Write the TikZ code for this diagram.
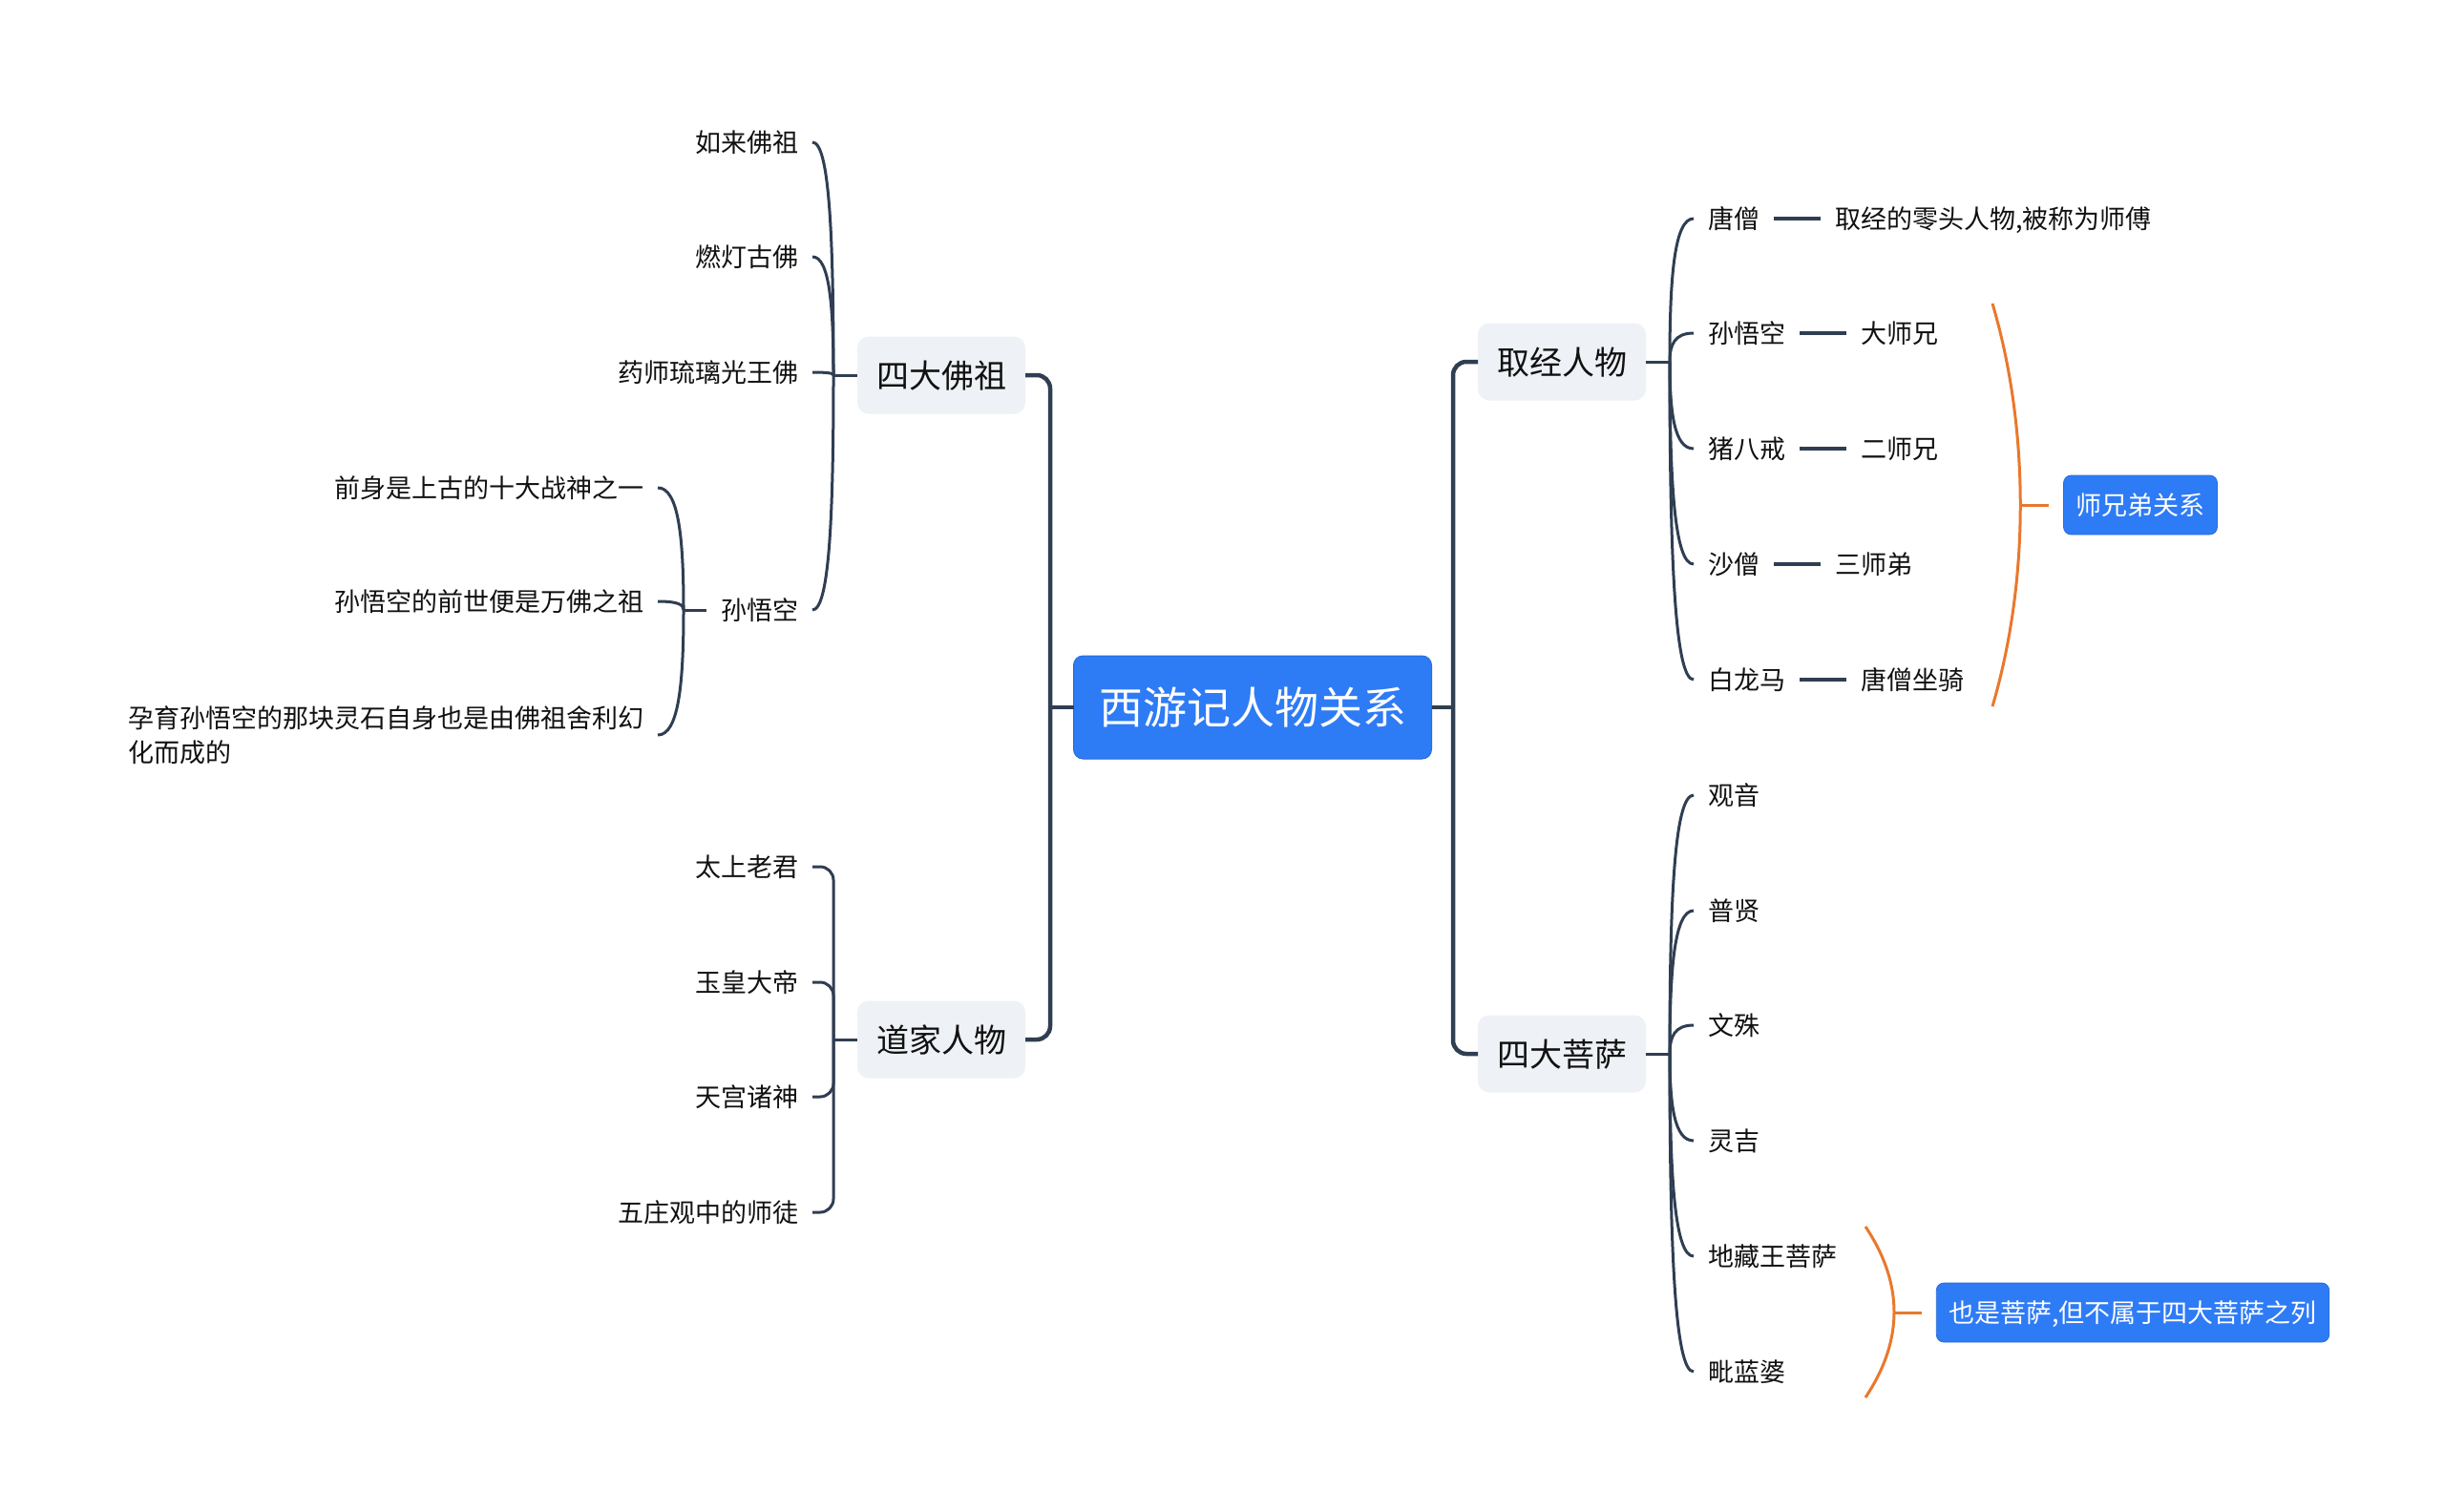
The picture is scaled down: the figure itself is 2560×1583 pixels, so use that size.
\documentclass[tikz,border=0pt]{standalone}
\usepackage{fontspec}
\setmainfont{Noto Sans CJK SC}
\usetikzlibrary{calc,positioning}
\definecolor{navy}{HTML}{2F3E52}
\definecolor{boxgray}{HTML}{EEF1F5}
\definecolor{mblue}{HTML}{2E7BF6}
\definecolor{morange}{HTML}{E9782C}
\definecolor{txt}{HTML}{111111}
\tikzset{
 every node/.style={inner sep=0pt, outer sep=0pt},
 centerbox/.style={fill=mblue, draw=mblue!88!black, line width=1pt, rounded corners=10pt, text=white, font=\fontsize{46}{55}\selectfont, minimum width=375pt, minimum height=108pt, text height=40.5pt, text depth=5.5pt},
 midbox/.style={fill=boxgray, rounded corners=12pt, text=txt, font=\fontsize{34}{41}\selectfont, minimum width=176pt, minimum height=81pt, text height=30pt, text depth=4pt},
 leaf/.style={text=txt, font=\fontsize{27}{36}\selectfont, inner xsep=15pt, text height=23.8pt, text depth=3.2pt},
 leafml/.style={text=txt, font=\fontsize{27}{36}\selectfont, inner xsep=15pt, align=left},
 sumbox/.style={fill=mblue, draw=mblue!88!black, line width=0.8pt, rounded corners=8pt, text=white, font=\fontsize{27}{33}\selectfont, minimum height=62pt, inner xsep=13pt, text height=23.8pt, text depth=3.2pt},
 mainline/.style={draw=navy, line width=4.5pt, rounded corners=14pt},
 leafline/.style={draw=navy, line width=3pt},
 subline/.style={draw=navy, line width=4pt},
 elbow/.style={draw=navy, line width=3pt, rounded corners=14pt},
 sumline/.style={draw=morange, line width=3pt},
}
\newcommand{\mmcurve}[2]{\draw[leafline] let \p1=(#1), \p2=(#2) in (\p1) .. controls ({\x1+0.8*(\x2-\x1)},\y1) and (\x2,{\y1+0.4*(\y2-\y1)}) .. (\p2);}
\begin{document}
\begin{tikzpicture}[x=1pt,y=-1pt]
\useasboundingbox (0,0) rectangle (2560,1583);
\fill[white] (0,0) rectangle (2560,1583);

% root and level 2
\node[centerbox] (root) at (1312,741) {西游记人物关系};
\node[midbox] (fz) at (986,393) {四大佛祖};
\node[midbox] (dj) at (986,1089) {道家人物};
\node[midbox] (qj) at (1636,379) {取经人物};
\node[midbox] (ps) at (1636,1104) {四大菩萨};

\coordinate (LB) at (1100,741);
\coordinate (RB) at (1522,741);
\draw[mainline] (fz.east) -| (LB) |- (dj.east);
\draw[mainline] (root.west) -- (LB);
\draw[mainline] (qj.west) -| (RB) |- (ps.west);
\draw[mainline] (root.east) -- (RB);

% 四大佛祖
\coordinate (J1) at (873,393);
\node[leaf, anchor=east] (rl) at (851,149) {如来佛祖};
\node[leaf, anchor=east] (rd) at (851,269) {燃灯古佛};
\node[leaf, anchor=east] (ys) at (851,390) {药师琉璃光王佛};
\node[leaf, anchor=east] (wk) at (851,639) {孙悟空};
\draw[leafline] (J1) -- (fz.west);
\mmcurve{rl.east}{J1}
\mmcurve{rd.east}{J1}
\mmcurve{ys.east}{J1}
\mmcurve{wk.east}{J1}

% 孙悟空 subtree
\coordinate (J2) at (716,639);
\draw[leafline] (wk.west) -- (J2);
\node[leaf, anchor=east] (q1) at (689,511) {前身是上古的十大战神之一};
\node[leaf, anchor=east] (q2) at (689,630) {孙悟空的前世便是万佛之祖};
\node[leafml, anchor=east] (q3) at (689,770) {孕育孙悟空的那块灵石自身也是由佛祖舍利幻\\化而成的};
\mmcurve{q1.east}{J2}
\mmcurve{q2.east}{J2}
\mmcurve{q3.east}{J2}

% 道家人物
\coordinate (J3) at (873,1089);
\draw[leafline] (J3) -- (dj.west);
\node[leaf, anchor=east] (d1) at (851,908) {太上老君};
\node[leaf, anchor=east] (d2) at (851,1029) {玉皇大帝};
\node[leaf, anchor=east] (d3) at (851,1149) {天宫诸神};
\node[leaf, anchor=east] (d4) at (851,1270) {五庄观中的师徒};
\draw[elbow] (d1.east) -| (J3);
\draw[elbow] (d2.east) -| (J3);
\draw[elbow] (d3.east) -| (J3);
\draw[elbow] (d4.east) -| (J3);

% 取经人物
\coordinate (J4) at (1749,379);
\draw[leafline] (qj.east) -- (J4);
\node[leaf, anchor=west] (c1) at (1774,229) {唐僧};
\node[leaf, anchor=west] (c2) at (1774,349) {孙悟空};
\node[leaf, anchor=west] (c3) at (1774,470) {猪八戒};
\node[leaf, anchor=west] (c4) at (1774,591) {沙僧};
\node[leaf, anchor=west] (c5) at (1774,712) {白龙马};
\mmcurve{c1.west}{J4}
\mmcurve{c2.west}{J4}
\mmcurve{c3.west}{J4}
\mmcurve{c4.west}{J4}
\mmcurve{c5.west}{J4}
\node[leaf, right=49pt of c1] (e1) {取经的零头人物,被称为师傅};
\node[leaf, right=49pt of c2] (e2) {大师兄};
\node[leaf, right=49pt of c3] (e3) {二师兄};
\node[leaf, right=49pt of c4] (e4) {三师弟};
\node[leaf, right=49pt of c5] (e5) {唐僧坐骑};
\draw[subline] (c1.east) -- (e1.west);
\draw[subline] (c2.east) -- (e2.west);
\draw[subline] (c3.east) -- (e3.west);
\draw[subline] (c4.east) -- (e4.west);
\draw[subline] (c5.east) -- (e5.west);

% 四大菩萨
\coordinate (J5) at (1749,1104);
\draw[leafline] (ps.east) -- (J5);
\node[leaf, anchor=west] (p1) at (1774,833) {观音};
\node[leaf, anchor=west] (p2) at (1774,954) {普贤};
\node[leaf, anchor=west] (p3) at (1774,1074) {文殊};
\node[leaf, anchor=west] (p4) at (1774,1195) {灵吉};
\node[leaf, anchor=west] (p5) at (1774,1316) {地藏王菩萨};
\node[leaf, anchor=west] (p6) at (1774,1437) {毗蓝婆};
\mmcurve{p1.west}{J5}
\mmcurve{p2.west}{J5}
\mmcurve{p3.west}{J5}
\mmcurve{p4.west}{J5}
\mmcurve{p5.west}{J5}
\mmcurve{p6.west}{J5}

% summaries
\node[sumbox] (s1) at (2242,529) {师兄弟关系};
\coordinate (b1t) at (2087,318);
\coordinate (b1m) at (2116,529);
\coordinate (b1b) at (2087,740);
\draw[sumline] (b1t) .. controls (2126,450) and (2126,608) .. (b1b);
\draw[sumline] (b1m) -- ($(s1.west)+(-16,0)$);

\node[sumbox] (s2) at (2234,1375) {也是菩萨,但不属于四大菩萨之列};
\coordinate (b2t) at (1954,1285);
\coordinate (b2m) at (1984,1375);
\coordinate (b2b) at (1954,1464);
\draw[sumline] (b2t) .. controls (1994,1345) and (1994,1404) .. (b2b);
\draw[sumline] (b2m) -- ($(s2.west)+(-15,0)$);
\end{tikzpicture}
\end{document}
